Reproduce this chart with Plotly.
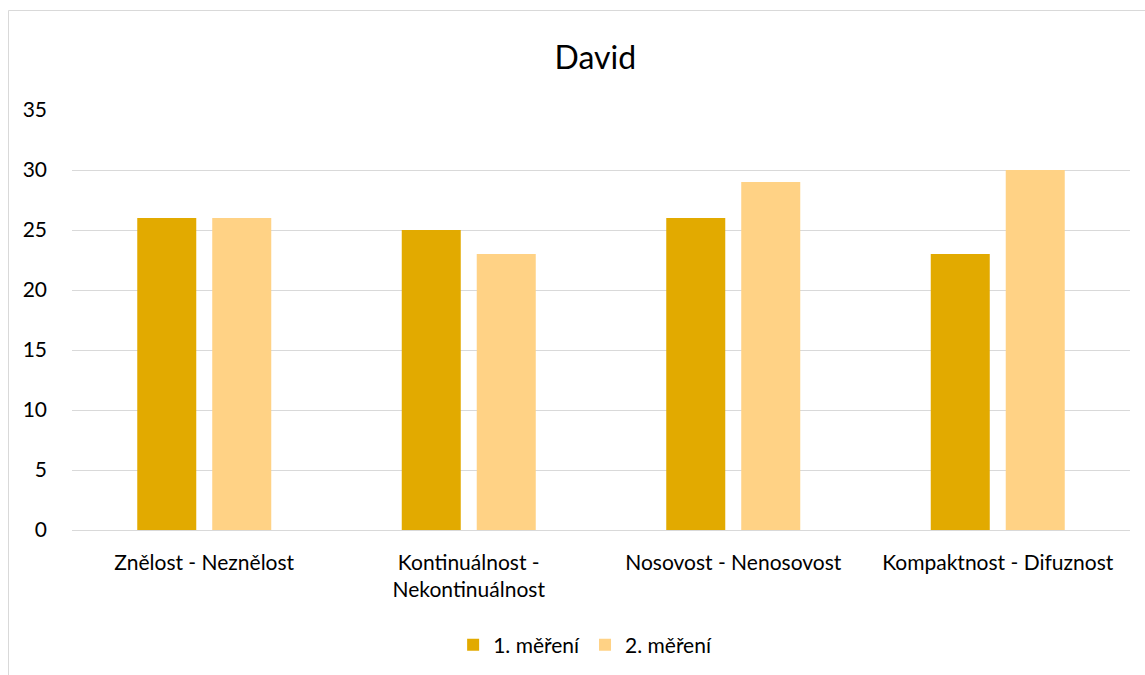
import plotly.graph_objects as go

categories = ["Znělost - Neznělost", "Kontinuálnost -<br>Nekontinuálnost",
              "Nosovost - Nenosovost", "Kompaktnost - Difuznost"]
series_names = ["1. měření", "2. měření"]
values_1 = [26, 25, 26, 23]
values_2 = [26, 23, 29, 30]
y_ticks = [0, 5, 10, 15, 20, 25, 30, 35]

W, H = 1145, 675
L, R, T, B = 72, 15, 110, 145
pw, ph = W - L - R, H - T - B

def px_x(p):
    return (p - L) / pw

def px_y(p):
    return (H - B - p) / ph

font = "Lato, 'Open Sans', sans-serif"

fig = go.Figure()
fig.add_trace(go.Bar(x=categories, y=values_1, name=series_names[0],
                     marker=dict(color="#E2AA00", line=dict(width=0))))
fig.add_trace(go.Bar(x=categories, y=values_2, name=series_names[1],
                     marker=dict(color="#FFD285", line=dict(width=0))))

fig.update_layout(
    width=W, height=H,
    margin=dict(l=L, r=R, t=T, b=B, autoexpand=False),
    paper_bgcolor="white", plot_bgcolor="white",
    font=dict(family=font, size=21, color="#000000"),
    title=dict(text="David", x=0.52, xanchor="center", y=1 - 58 / H, yanchor="middle",
               font=dict(size=32, family=font, color="#000000")),
    barmode="group", bargap=0.433, bargroupgap=0.213,
    showlegend=True,
    legend=dict(orientation="h", x=0.485, xanchor="center", y=px_y(645), yanchor="middle",
                font=dict(size=21, family=font), itemwidth=30, traceorder="normal"),
    xaxis=dict(showgrid=False, showline=False, ticks="", tickfont=dict(size=21),
               ticklabelstandoff=18, automargin=False),
    yaxis=dict(range=[0, 35], tickvals=y_ticks, showgrid=True, gridcolor="#D9D9D9",
               gridwidth=1, zeroline=True, zerolinecolor="#D9D9D9", zerolinewidth=1,
               showline=False, ticks="", tickfont=dict(size=21), ticklabelstandoff=24,
               automargin=False),
)

fig.add_shape(type="rect", xref="paper", yref="paper",
              x0=px_x(8.5), x1=px_x(1160), y0=px_y(690), y1=px_y(10.5),
              line=dict(color="#D9D9D9", width=1), fillcolor="rgba(0,0,0,0)", layer="below")

fig.write_html("out.html")
